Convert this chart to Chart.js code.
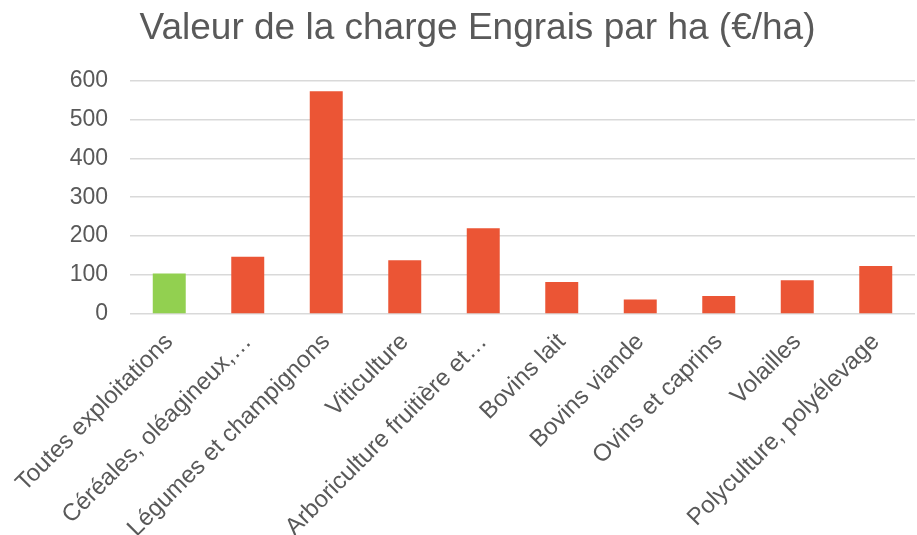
<!DOCTYPE html>
<html>
<head>
<meta charset="utf-8">
<script src="https://cdn.jsdelivr.net/npm/chart.js@4/dist/chart.umd.min.js"></script>
<style>
    html, body { margin: 0; padding: 0; background: #fff; }
    #wrap { width: 917px; height: 535px; }
</style>
</head>
<body>
<div id="wrap"><canvas id="engraisChart"></canvas></div>
<script>
// Chart data
const categories = [
    'Toutes exploitations',
    'Céréales, oléagineux,…',
    'Légumes et champignons',
    'Viticulture',
    'Arboriculture fruitière et…',
    'Bovins lait',
    'Bovins viande',
    'Ovins et caprins',
    'Volailles',
    'Polyculture, polyélevage'
];
const engraisValues = [104, 147, 572, 138, 220, 82, 37, 46, 87, 123];
const barColors = ['#92D050', '#EB5535', '#EB5535', '#EB5535', '#EB5535', '#EB5535', '#EB5535', '#EB5535', '#EB5535', '#EB5535'];
const yTicks = [0, 100, 200, 300, 400, 500, 600];

const textColor = '#595959';

const ctx = document.getElementById('engraisChart').getContext('2d');
new Chart(ctx, {
    type: 'bar',
    data: {
        labels: categories,
        datasets: [{
            data: engraisValues,
            backgroundColor: barColors,
            categoryPercentage: 1,
            barPercentage: 0.42
        }]
    },
    options: {
        responsive: true,
        maintainAspectRatio: false,
        animation: false,
        // left padding pushes the title a bit to the right, like the original
        layout: { padding: { left: 40, right: 2, top: 0, bottom: 0 } },
        plugins: {
            legend: { display: false },
            tooltip: { enabled: false },
            title: {
                display: true,
                text: 'Valeur de la charge Engrais par ha (€/ha)',
                color: textColor,
                font: { family: 'Liberation Sans, Arial, sans-serif', size: 37, weight: 'normal' },
                padding: { top: 7, bottom: 29 }
            }
        },
        scales: {
            x: {
                grid: { display: false },
                border: { display: false },
                ticks: {
                    autoSkip: false,
                    maxRotation: 45,
                    minRotation: 45,
                    color: textColor,
                    padding: 6,
                    font: { family: 'Liberation Sans, Arial, sans-serif', size: 24 }
                },
                afterFit: function (scale) {
                    scale.height = 221;
                }
            },
            y: {
                min: 0,
                max: 600,
                afterBuildTicks: function (scale) {
                    scale.ticks = yTicks.map(v => ({ value: v }));
                },
                grid: { color: '#D9D9D9', lineWidth: 1.5, drawTicks: false },
                border: { display: false },
                ticks: {
                    color: textColor,
                    padding: 22,
                    font: { family: 'Liberation Sans, Arial, sans-serif', size: 23 }
                },
                afterFit: function (scale) {
                    scale.width = 90;
                }
            }
        }
    }
});
</script>
</body>
</html>
